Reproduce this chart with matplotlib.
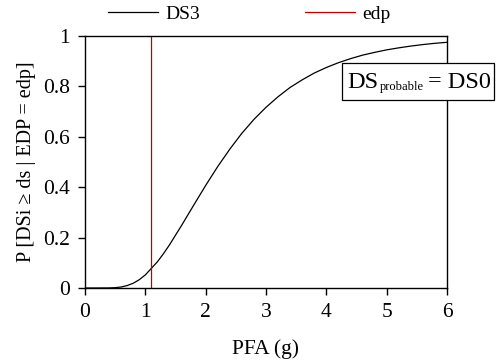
import matplotlib
matplotlib.use("Agg")
import matplotlib.pyplot as plt
from matplotlib.lines import Line2D
from matplotlib.patches import Rectangle

plt.rcParams['font.family'] = ['Liberation Serif', 'DejaVu Serif']

# Fragility curve for DS3 (probability of exceedance vs peak floor acceleration)
pfa = [0.0, 0.2, 0.4, 0.5, 0.6, 0.7, 0.8, 0.9, 1.0, 1.1, 1.2, 1.3, 1.4, 1.6, 1.8,
       2.0, 2.2, 2.4, 2.6, 2.8, 3.0, 3.2, 3.4, 3.6, 3.8, 4.0, 4.2, 4.4, 4.6, 4.8,
       5.0, 5.2, 5.4, 5.6, 5.8, 6.0]
p_ds3 = [0.0, 0.0, 0.0003, 0.0013, 0.004, 0.0098, 0.019, 0.033, 0.052, 0.078,
         0.104, 0.136, 0.171, 0.248, 0.328, 0.407, 0.482, 0.551, 0.614, 0.669,
         0.717, 0.759, 0.796, 0.826, 0.853, 0.875, 0.894, 0.910, 0.924, 0.935,
         0.945, 0.953, 0.960, 0.966, 0.971, 0.975]
edp_value = 1.1
x_ticks = [0, 1, 2, 3, 4, 5, 6]
y_ticks = [0, 0.2, 0.4, 0.6, 0.8, 1]
y_tick_labels = ['0', '0.2', '0.4', '0.6', '0.8', '1']
probable_ds = 'DS0'

W, H = 502, 363
fig = plt.figure(figsize=(W / 100, H / 100), dpi=100)
ax = fig.add_axes([85 / W, 1 - 288 / H, 362 / W, 252 / H])

ax.plot(pfa, p_ds3, color='black', lw=0.9)
ax.axvline(edp_value, color='#c00000', lw=0.9)

ax.set_xlim(0, 6)
ax.set_ylim(0, 1)
ax.set_xticks(x_ticks)
ax.set_yticks(y_ticks)
ax.set_yticklabels(y_tick_labels)
ax.tick_params(direction='out', length=5, width=1, labelsize=15.5, pad=6)
for s in ax.spines.values():
    s.set_linewidth(1)

ax.set_xlabel('PFA (g)', fontsize=15.5, labelpad=12)
ax.set_ylabel('P [DSi ≥ ds | EDP = edp]', fontsize=14.5, labelpad=5)

handles = [Line2D([], [], color='black', lw=0.9),
           Line2D([], [], color='#c00000', lw=0.9)]
fig.legend(handles, ['DS3', 'edp'], loc='center', bbox_to_anchor=(0.496, 0.961),
           ncol=2, frameon=False, fontsize=14, handlelength=2.6,
           columnspacing=5.4, handletextpad=0.35, borderpad=0)

# Annotation box with the most probable damage state
fig.add_artist(Rectangle((342 / W, 1 - 100 / H), 152 / W, 37 / H,
                         transform=fig.transFigure, fc='white', ec='black',
                         lw=0.9, zorder=2))
base_y = 1 - 88 / H
fig.text(347 / W, base_y, 'DS', fontsize=17.5, va='baseline', ha='left', zorder=3)
fig.text(380 / W, 1 - 90 / H, 'probable', fontsize=9, va='baseline', ha='left', zorder=3)
fig.text(491 / W, base_y, '= ' + probable_ds, fontsize=17.5, va='baseline', ha='right', zorder=3)

fig.savefig('out.png', dpi=100)
